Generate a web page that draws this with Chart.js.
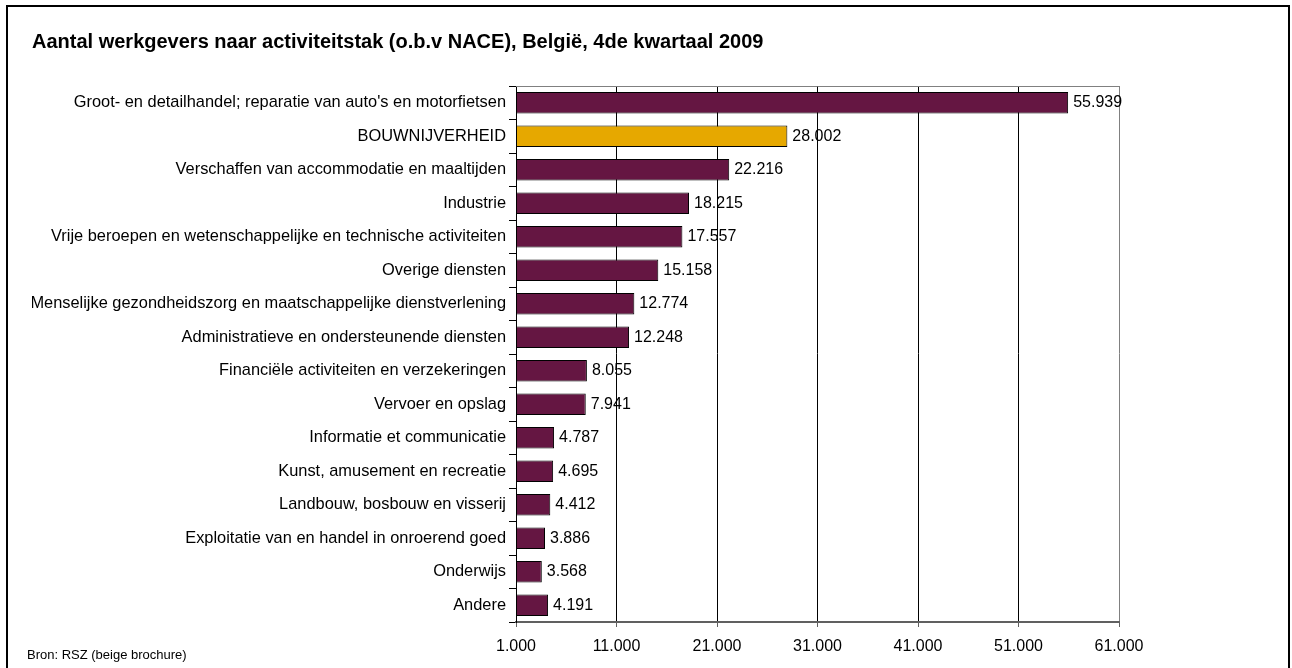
<!DOCTYPE html>
<html>
<head>
<meta charset="utf-8">
<script src="https://cdn.jsdelivr.net/npm/chart.js@4"></script>
<style>
  html, body { margin: 0; padding: 0; background: #fff; }
  #wrap { width: 1292px; height: 668px; position: relative; }
</style>
</head>
<body>
<div id="wrap"><canvas id="c" width="1292" height="668"></canvas></div>
<script>
const titleText = "Aantal werkgevers naar activiteitstak (o.b.v NACE), België, 4de kwartaal 2009";
const sourceText = "Bron: RSZ (beige brochure)";
const categories = [
  "Groot- en detailhandel; reparatie van auto's en motorfietsen",
  "BOUWNIJVERHEID",
  "Verschaffen van accommodatie en maaltijden",
  "Industrie",
  "Vrije beroepen en wetenschappelijke en technische activiteiten",
  "Overige diensten",
  "Menselijke gezondheidszorg en maatschappelijke dienstverlening",
  "Administratieve en ondersteunende diensten",
  "Financiële activiteiten en verzekeringen",
  "Vervoer en opslag",
  "Informatie et communicatie",
  "Kunst, amusement en recreatie",
  "Landbouw, bosbouw en visserij",
  "Exploitatie van en handel in onroerend goed",
  "Onderwijs",
  "Andere"
];
const values = [55939, 28002, 22216, 18215, 17557, 15158, 12774, 12248, 8055, 7941, 4787, 4695, 4412, 3886, 3568, 4191];
const highlightCategory = "BOUWNIJVERHEID";
const axisMin = 1000;
const axisMax = 61000;
const axisStep = 10000;

const PURPLE = '#651642';
const GOLD = '#E6A800';
const FONT = "'Liberation Sans', Arial, sans-serif";

function fmt(v) {
  return String(Math.round(v)).replace(/\B(?=(\d{3})+(?!\d))/g, '.');
}

const decorPlugin = {
  id: 'decor',
  beforeDraw(chart) {
    const ctx = chart.ctx;
    ctx.save();
    ctx.fillStyle = '#fff';
    ctx.fillRect(0, 0, chart.width, chart.height);
    ctx.restore();
  },
  afterDatasetsDraw(chart) {
    const ctx = chart.ctx;
    const a = chart.chartArea;
    ctx.save();
    ctx.strokeStyle = '#808080';
    ctx.lineWidth = 1;
    ctx.beginPath();
    ctx.moveTo(a.left, Math.round(a.top) + 0.5);
    ctx.lineTo(a.right, Math.round(a.top) + 0.5);
    ctx.stroke();
    const meta = chart.getDatasetMeta(0);
    ctx.fillStyle = '#000';
    ctx.font = "16px " + FONT;
    ctx.textBaseline = 'middle';
    ctx.textAlign = 'left';
    meta.data.forEach((bar, i) => {
      ctx.fillText(fmt(values[i]), bar.x + 5, bar.y);
    });
    ctx.restore();
  },
  afterDraw(chart) {
    const ctx = chart.ctx;
    ctx.save();
    ctx.strokeStyle = '#000';
    ctx.lineWidth = 2;
    ctx.strokeRect(7, 6, 1282, 668);
    ctx.fillStyle = '#000';
    ctx.font = "13px " + FONT;
    ctx.textBaseline = 'middle';
    ctx.textAlign = 'left';
    ctx.fillText(sourceText, 27, 655);
    ctx.restore();
  }
};

new Chart(document.getElementById('c'), {
  type: 'bar',
  data: {
    labels: categories,
    datasets: [{
      data: values.map(v => [axisMin, v]),
      backgroundColor: categories.map(c => c === highlightCategory ? GOLD : PURPLE),
      borderColor: '#000',
      borderWidth: 1,
      borderSkipped: false,
      barPercentage: 0.64,
      categoryPercentage: 1.0
    }]
  },
  options: {
    indexAxis: 'y',
    responsive: false,
    animation: false,
    layout: { padding: { left: 32, right: 173, top: 0, bottom: 0 } },
    plugins: {
      legend: { display: false },
      tooltip: { enabled: false },
      title: {
        display: true,
        text: titleText,
        align: 'start',
        color: '#000',
        font: { family: FONT, size: 20, weight: 'bold', lineHeight: 1.2 },
        padding: { top: 30, bottom: 32 }
      }
    },
    scales: {
      x: {
        type: 'linear',
        position: 'bottom',
        min: axisMin,
        max: axisMax,
        afterFit(s) { s.height = 46; },
        ticks: {
          stepSize: axisStep,
          color: '#000',
          font: { family: FONT, size: 16 },
          padding: 10,
          maxRotation: 0,
          callback: (v) => fmt(v)
        },
        grid: {
          color: (c) => (c.tick && c.tick.value === axisMax) ? '#808080' : '#000',
          tickColor: '#606060',
          tickLength: 5,
          lineWidth: 1
        },
        border: { color: '#606060', width: 2 }
      },
      y: {
        type: 'category',
        position: 'left',
        offset: true,
        afterFit(s) { s.width = 484; },
        ticks: {
          color: '#000',
          font: { family: FONT, size: 16.4 },
          padding: 3,
          autoSkip: false
        },
        grid: {
          drawOnChartArea: false,
          offset: true,
          tickLength: 7,
          color: '#000'
        },
        border: { color: '#000', width: 1 }
      }
    }
  },
  plugins: [decorPlugin]
});
</script>
</body>
</html>
